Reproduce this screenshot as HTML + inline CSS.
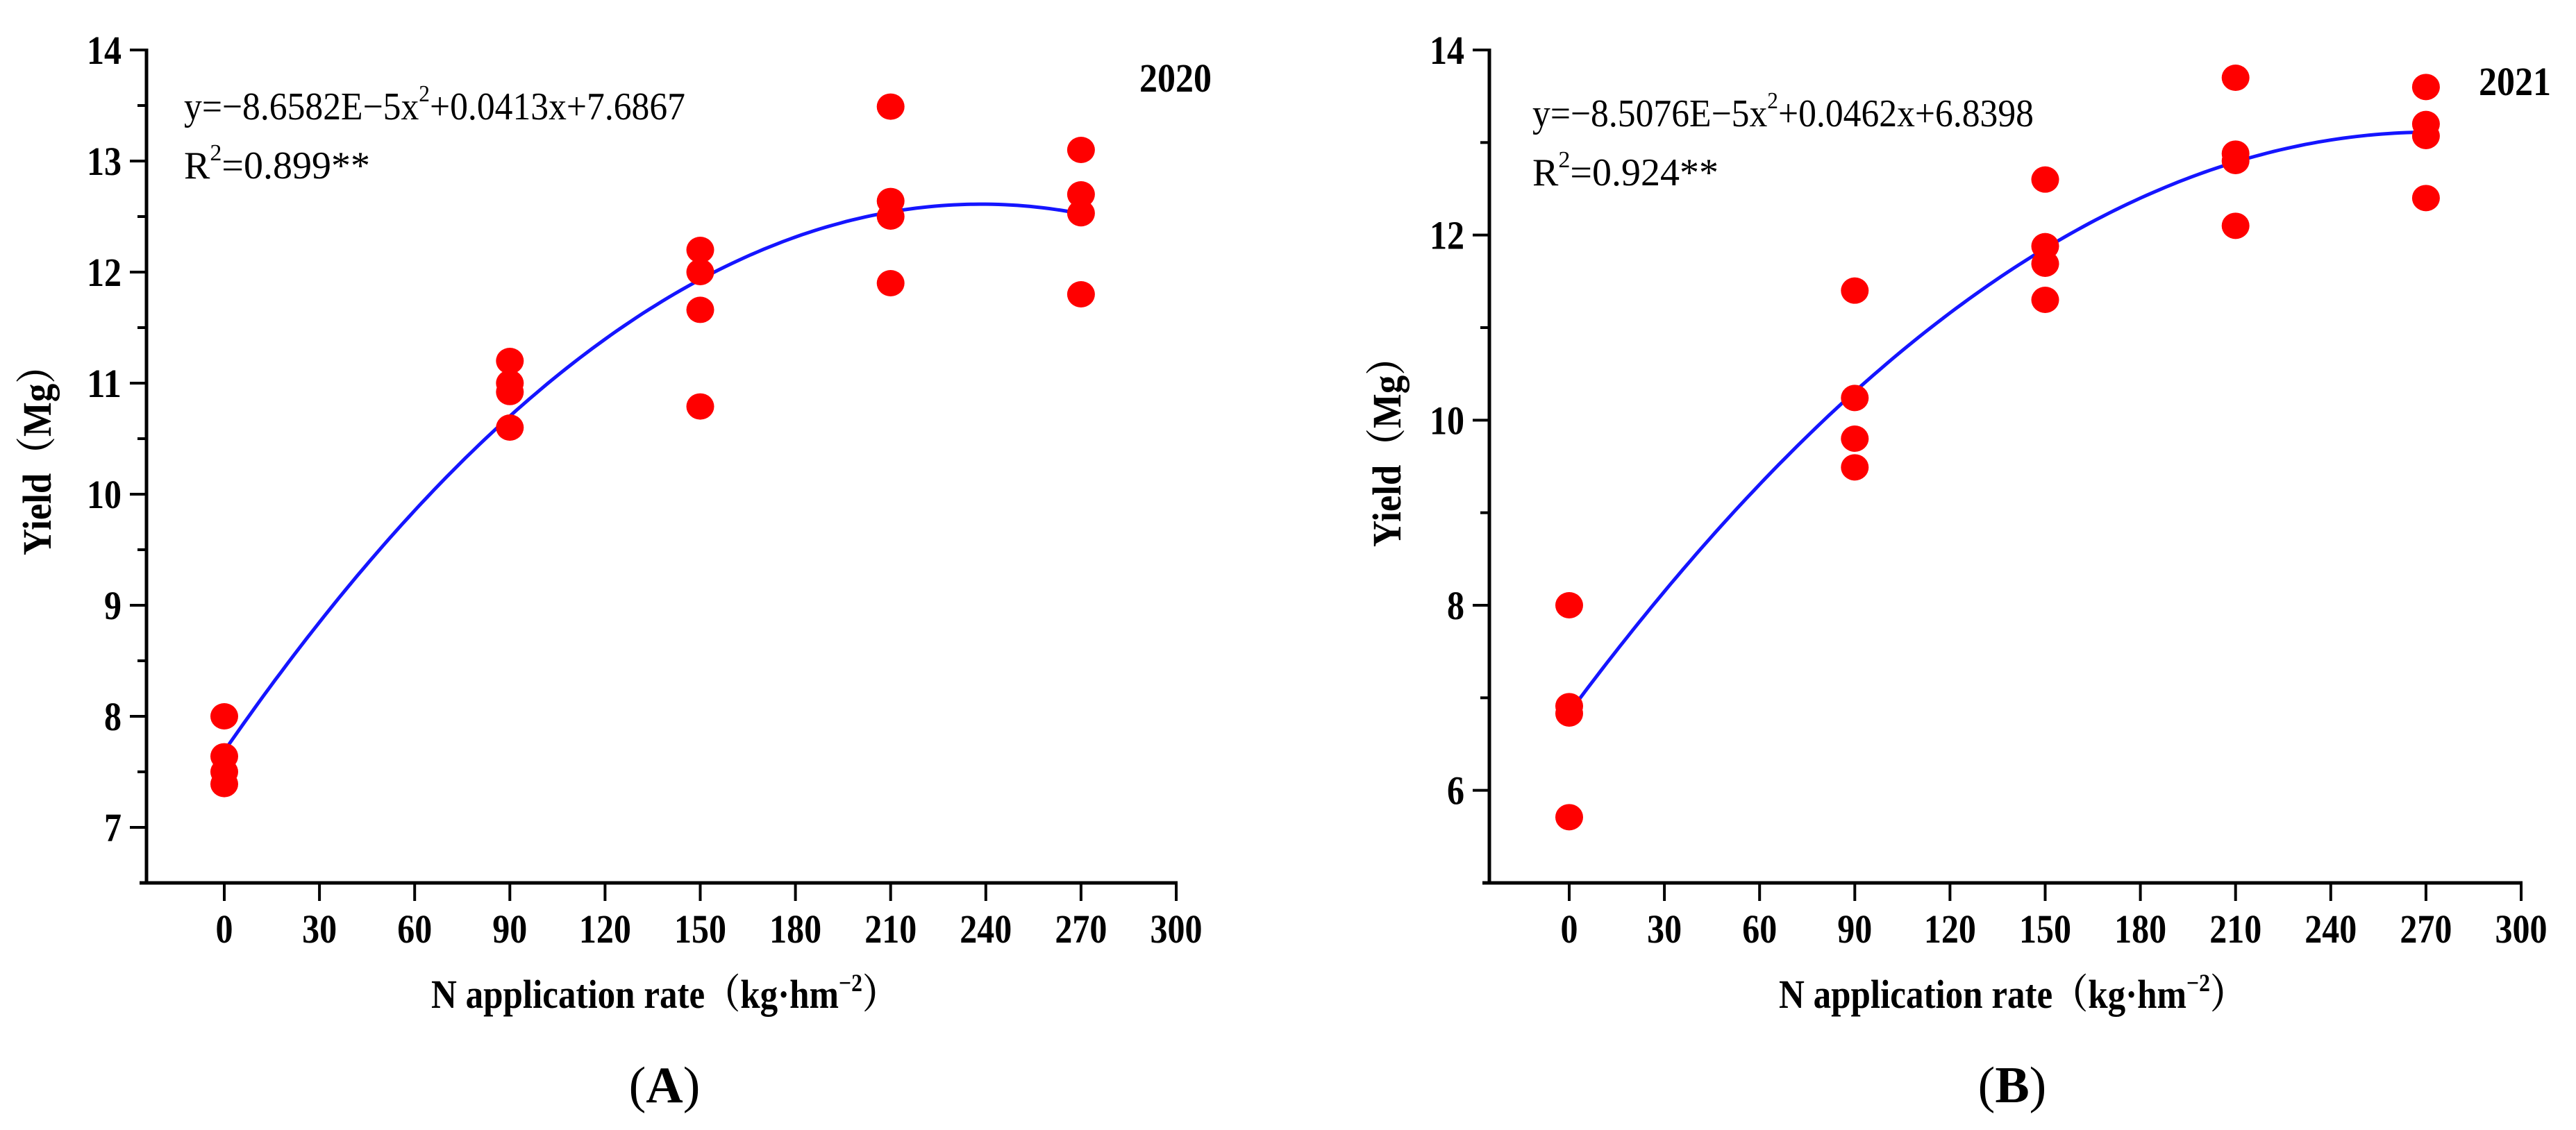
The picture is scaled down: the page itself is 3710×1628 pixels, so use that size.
<!DOCTYPE html>
<html><head><meta charset="utf-8"><style>
html,body{margin:0;padding:0;background:#fff;}
svg{display:block;}
text{font-family:"Liberation Serif","Noto Serif CJK SC",serif;fill:#000;}
</style></head><body>
<svg id="chart" width="3710" height="1628" viewBox="0 0 3710 1628" xmlns="http://www.w3.org/2000/svg"></svg>
<script>
const xTicks = [0,30,60,90,120,150,180,210,240,270,300];
const ratesA = [0,0,0,0,90,90,90,90,150,150,150,150,210,210,210,210,270,270,270,270];
const yieldA = [8.0,7.64,7.5,7.39,11.2,11.0,10.92,10.6,12.2,12.0,11.66,10.79,13.49,12.64,12.5,11.9,13.1,12.7,12.53,11.8];
const coefA = [-8.6582e-5,0.0413,7.6867];
const yTicksA = [7,8,9,10,11,12,13,14];
const ratesB = [0,0,0,0,90,90,90,90,150,150,150,150,210,210,210,210,270,270,270,270];
const yieldB = [8.0,6.91,6.83,5.71,11.4,10.24,9.8,9.49,12.6,11.88,11.69,11.3,13.7,12.88,12.8,12.1,13.6,13.2,13.07,12.4];
const coefB = [-8.5076e-5,0.0462,6.8398];
const yTicksB = [6,8,10,12,14];

const NS='http://www.w3.org/2000/svg';
const svg=document.getElementById('chart');
function mk(tag,attrs,parent){const e=document.createElementNS(NS,tag);for(const k in attrs)e.setAttribute(k,attrs[k]);(parent||svg).appendChild(e);return e;}

function panel(o){
  const g=mk('g',{});
  
  
  const xs=v=>o.x0+(v-0)*(o.x300-o.x0)/300;
  const ys=v=>o.yTop+(o.yMaxV-v)*(o.yBot-o.yTop)/(o.yMaxV-o.yMinV);
  // axes
  const ya=mk('line',{x1:o.axX,y1:o.yTop-2,x2:o.axX,y2:o.yBot,stroke:'#000','stroke-width':5},g);
  
  
  const xa=mk('line',{x1:o.axX-10,y1:o.yBot,x2:xs(300)+2,y2:o.yBot,stroke:'#000','stroke-width':5},g);
  
  
  // y ticks
  for(let i=0;i<o.yTicks.length;i++){
    const v=o.yTicks[i], y=ys(v);
    mk('line',{x1:o.axX-24,y1:y,x2:o.axX,y2:y,stroke:'#000','stroke-width':4},g);
    const t=mk('text',{x:o.axX-36,y:y+20,'font-size':58,'font-weight':'bold','text-anchor':'end',textLength:String(v).length*25,lengthAdjust:'spacingAndGlyphs'},g);
    t.textContent=v;
    
    
    const mv=v-o.yStep/2;
    if(mv>o.yMinV){const my=ys(mv);mk('line',{x1:o.axX-13,y1:my,x2:o.axX,y2:my,stroke:'#000','stroke-width':4},g);}
  }
  // x ticks
  for(let i=0;i<xTicks.length;i++){
    const v=xTicks[i], x=xs(v);
    mk('line',{x1:x,y1:o.yBot,x2:x,y2:o.yBot+26,stroke:'#000','stroke-width':4},g);
    const t=mk('text',{x:x,y:o.yBot+86,'font-size':58,'font-weight':'bold','text-anchor':'middle',textLength:String(v).length*25,lengthAdjust:'spacingAndGlyphs'},g);
    t.textContent=v;
    
    
  }
  // curve
  let d='';
  for(let v=0;v<=270;v+=2){const yv=o.coef[0]*v*v+o.coef[1]*v+o.coef[2];d+=(v?'L':'M')+xs(v).toFixed(1)+','+ys(yv).toFixed(1);}
  const c=mk('path',{d:d,fill:'none',stroke:'#1515ff','stroke-width':5},g);
  
  
  // points
  for(let i=0;i<o.rates.length;i++){
    const p=mk('ellipse',{cx:xs(o.rates[i]),cy:ys(o.yields[i]),rx:20,ry:19,fill:'#ff0000'},g);
    
    
  }
  // equation
  const eq=mk('text',{x:o.eqX,y:o.eqY,'font-size':56,textLength:o.eqW,lengthAdjust:'spacingAndGlyphs'},g);
  eq.innerHTML=o.eq1+'<tspan dy="-26" font-size="34">2</tspan><tspan dy="26">'+o.eq2+'</tspan>';
  
  
  const r2=mk('text',{x:o.eqX,y:o.eqY+85,'font-size':56},g);
  r2.innerHTML='R<tspan dy="-26" font-size="34">2</tspan><tspan dy="26">='+o.r2+'**</tspan>';
  
  
  const yr=mk('text',{x:o.yrX,y:o.yrY,'font-size':58,'font-weight':'bold','text-anchor':'end',textLength:o.yrW,lengthAdjust:'spacingAndGlyphs'},g);
  yr.textContent=o.year;
  
  
  const xt=mk('text',{x:o.titleX,y:1452,'font-size':58,'font-weight':'bold','text-anchor':'middle',textLength:672,lengthAdjust:'spacingAndGlyphs'},g);
  xt.innerHTML='N application rate（kg·hm<tspan dy="-24" font-size="36">−2</tspan><tspan dy="24">）</tspan>';
  
  
  const yt=mk('text',{x:0,y:0,'font-size':58,'font-weight':'bold','text-anchor':'middle',textLength:300,lengthAdjust:'spacingAndGlyphs',transform:'translate('+(o.ytX+20)+','+o.ytY+') rotate(-90)'},g);
  yt.textContent='Yield（Mg）';
  
  
  const lb=mk('text',{x:o.titleX,y:1588,'font-size':74,'text-anchor':'middle'},g);
  lb.innerHTML='(<tspan font-weight="bold">'+o.letter+'</tspan>)';
  
  
}

panel({name:'panel-a',axX:211,x0:323,x300:1694,yTop:72,yBot:1272,yMaxV:14,yMinV:6.5,yStep:1,yTicks:yTicksA,
  rates:ratesA,yields:yieldA,coef:coefA,eqX:265,eqY:172,eqW:722,eq1:'y=−8.6582E−5x',eq2:'+0.0413x+7.6867',r2:'0.899',
  year:'2020',yrX:1745,yrY:132,yrW:104,titleX:957,ytX:53,ytY:650,letter:'A'});
panel({name:'panel-b',axX:2145,x0:2260,x300:3631,yTop:72,yBot:1272,yMaxV:14,yMinV:5,yStep:2,yTicks:yTicksB,
  rates:ratesB,yields:yieldB,coef:coefB,eqX:2207,eqY:182,eqW:722,eq1:'y=−8.5076E−5x',eq2:'+0.0462x+6.8398',r2:'0.924',
  year:'2021',yrX:3674,yrY:137,yrW:104,titleX:2898,ytX:1997,ytY:638,letter:'B'});
</script>
</body></html>
